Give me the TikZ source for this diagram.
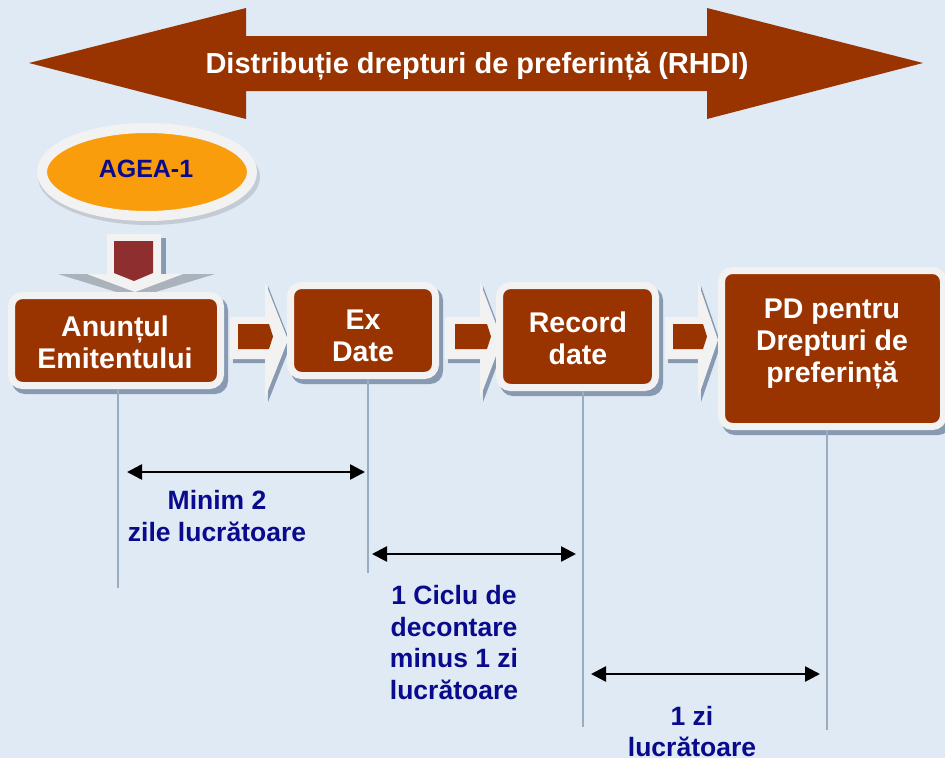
\documentclass[tikz,border=0pt]{standalone}
\usepackage{fontspec}
\setmainfont{Liberation Sans}
\usetikzlibrary{shapes.geometric,arrows.meta,calc}
\definecolor{bgc}{RGB}{223,234,245}
\definecolor{brc}{RGB}{153,51,0}
\definecolor{ringc}{RGB}{242,242,242}
\definecolor{shc}{RGB}{136,153,178}
\definecolor{orc}{RGB}{249,157,12}
\definecolor{navyc}{RGB}{10,10,140}
\definecolor{vlc}{RGB}{154,172,191}
\definecolor{maroonc}{RGB}{142,46,46}
\definecolor{dshc}{RGB}{170,178,188}
\definecolor{ellsh}{RGB}{196,203,212}
\newcommand{\drawconn}[6]{%
 \fill[shc] (#1+3,321) -- (#2+3,321) -- (#2+3,286) -- (#3+3,344) -- (#2+3,402) -- (#2+3,363) -- (#1+3,363) -- cycle;
 \fill[ringc] (#1,317) -- (#2,317) -- (#2,282) -- (#3,340) -- (#2,398) -- (#2,359) -- (#1,359) -- cycle;
 \fill[brc] (#4,324) -- (#5,324) -- (#6,336.5) -- (#5,349) -- (#4,349) -- cycle;}
\newcommand{\drawbrshadow}[4]{\fill[shc, rounded corners=13pt] (#1+4,#2+5) rectangle (#3+4,#4+5);}
\begin{document}
\begin{tikzpicture}[x=1pt,y=-1pt,
  brbox/.style={draw=ringc, line width=7pt, fill=brc, rounded corners=11pt, inner sep=0pt, outer sep=0pt},
  boxtext/.style={text=white, align=center, font=\bfseries\fontsize{28.5}{32}\selectfont, inner sep=0pt},
  titletext/.style={text=white, font=\bfseries\fontsize{29}{33}\selectfont, inner sep=0pt},
  lbl/.style={text=navyc, align=center, font=\bfseries\fontsize{26.5}{31.5}\selectfont, inner sep=0pt},
  vline/.style={draw=vlc, line width=2.2pt},
  dim/.style={draw=black, line width=2.6pt, {Triangle[length=15pt,width=15pt]}-{Triangle[length=15pt,width=15pt]}}
]
\useasboundingbox (0,0) rectangle (945,758);
\fill[bgc] (0,0) rectangle (945,758);
% title double arrow
\fill[brc] (29,63) -- (246,8) -- (246,36) -- (707,36) -- (707,8) -- (923,63) -- (707,119) -- (707,91) -- (246,91) -- (246,119) -- cycle;
\node[titletext] (title) at (477,66.5) {Distribuție drepturi de preferință (RHDI)};
% AGEA ellipse
\fill[ellsh] (149,177) ellipse [x radius=111pt, y radius=48pt];
\node[ellipse, draw=ringc, line width=10pt, fill=orc, minimum width=210pt, minimum height=88pt, inner sep=0pt] (agea) at (147,172) {};
\node[text=navyc, font=\bfseries\fontsize{25}{28}\selectfont, inner sep=0pt] (ageat) at (146,169) {AGEA-1};
% down arrow
\fill[dshc] (58,274) -- (215,274) -- (136,298) -- cycle;
\fill[shc] (161,238) -- (166,238) -- (166,274) -- (161,274) -- cycle;
\fill[ringc] (107,234) -- (161,234) -- (161,274) -- (183,274) -- (135,292) -- (87,274) -- (107,274) -- cycle;
\fill[maroonc] (114,241) -- (153,241) -- (153,273) -- (134,281) -- (114,273) -- cycle;
% vertical line ends
\coordinate (v1) at (118,588);
\coordinate (v2) at (368,573);
\coordinate (v3) at (583,727);
\coordinate (v4) at (827,730);
% connectors between boxes
\drawconn{230}{265}{288}{238}{269}{273}
\drawconn{445}{480}{502}{455}{487}{491}
\drawconn{665}{698}{718}{673}{703}{707}
% boxes
\drawbrshadow{8}{292}{224}{389}
\drawbrshadow{287}{282}{439}{379}
\drawbrshadow{496}{282}{659}{391}
\drawbrshadow{718}{267}{947}{430}
\node[brbox, minimum width=209pt, minimum height=90pt] (b1) at (116,340.5) {};
\node[brbox, minimum width=145pt, minimum height=90pt] (b2) at (363,330.5) {};
\node[brbox, minimum width=156pt, minimum height=102pt] (b3) at (577.5,336.5) {};
\node[brbox, minimum width=222pt, minimum height=156pt] (b4) at (832.5,348.5) {};
% vertical lines
\draw[vline] ([yshift=-3.5pt]b1.south -| v1) -- (v1);
\draw[vline] ([yshift=-3.5pt]b2.south -| v2) -- (v2);
\draw[vline] ([yshift=-3.5pt]b3.south -| v3) -- (v3);
\draw[vline] ([yshift=-3.5pt]b4.south -| v4) -- (v4);
% box texts
\node[boxtext] (t1) at (115,342) {Anunțul\\Emitentului};
\node[boxtext] (t2) at (363,336) {Ex\\Date};
\node[boxtext] (t3) at (578,338) {Record\\date};
\node[boxtext] (t4) at (832,344) {PD pentru\\Drepturi de\\preferință};
% dimension arrows
\coordinate (a1l) at (127,472);
\coordinate (a1r) at (365,472);
\coordinate (a2l) at (372,554);
\coordinate (a2r) at (576,554);
\coordinate (a3l) at (591,674);
\coordinate (a3r) at (820,674);
\draw[dim] (a1l) -- (a1r);
\draw[dim] (a2l) -- (a2r);
\draw[dim] (a3l) -- (a3r);
% labels
\node[lbl] (l1) at (217,516) {Minim 2\\zile lucrătoare};
\node[lbl] (l2) at (454,642.5) {1 Ciclu de\\decontare\\minus 1 zi\\lucrătoare};
\node[lbl] (l3) at (692,731.5) {1 zi\\lucrătoare};
\end{tikzpicture}
\end{document}
